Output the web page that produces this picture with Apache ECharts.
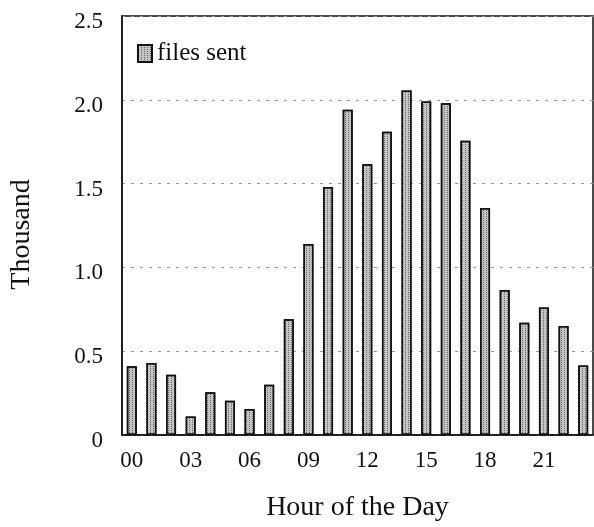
<!DOCTYPE html>
<html>
<head>
<meta charset="utf-8">
<script src="https://cdn.jsdelivr.net/npm/echarts@6.0.0/dist/echarts.min.js"></script>
<style>
  html, body { margin: 0; padding: 0; background: #fff; }
  #chart { width: 594px; height: 527px; }
</style>
</head>
<body>
<div id="chart"></div>
<script>
// hours of the day
const hours = ['00', '01', '02', '03', '04', '05', '06', '07', '08', '09', '10', '11',
  '12', '13', '14', '15', '16', '17', '18', '19', '20', '21', '22', '23']
// files sent, in thousands
const filesSent = [0.41, 0.43, 0.36, 0.11, 0.255, 0.205, 0.155, 0.30, 0.69, 1.14, 1.48, 1.94,
  1.615, 1.81, 2.055, 1.99, 1.98, 1.755, 1.355, 0.865, 0.67, 0.76, 0.65, 0.415]
const yTicks = ['0', '0.5', '1.0', '1.5', '2.0', '2.5']

const font = 'Liberation Serif'

const barStyle = {
  color: '#c4c4c4',
  borderColor: '#111',
  borderWidth: 1.5,
  decal: {
    symbol: 'rect',
    symbolSize: 1,
    dashArrayX: [1, 2],
    dashArrayY: [1, 1],
    color: 'rgba(40,40,40,0.6)',
    rotation: 0
  }
}

const chart = echarts.init(document.getElementById('chart'))
chart.setOption({
  animation: false,
  backgroundColor: '#fff',
  grid: {
    left: 119, right: 1, top: 16, bottom: 90,
    show: true, borderColor: '#111', borderWidth: 1.5
  },
  legend: {
    left: 132, top: 36,
    itemWidth: 14, itemHeight: 17,
    textStyle: { fontFamily: font, fontSize: 25, color: '#111' },
    data: [{ name: 'files sent', icon: 'rect' }]
  },
  xAxis: {
    type: 'category',
    data: hours,
    name: 'Hour of the Day',
    nameLocation: 'middle',
    nameGap: 59,
    nameTextStyle: { fontFamily: font, fontSize: 28, color: '#111' },
    axisLine: { lineStyle: { color: '#111', width: 1.5 } },
    axisTick: { show: false },
    axisLabel: {
      interval: 2, margin: 14,
      fontFamily: font, fontSize: 23, color: '#111'
    }
  },
  yAxis: {
    type: 'value',
    min: 0, max: 2.5, interval: 0.5,
    name: 'Thousand',
    nameLocation: 'middle',
    nameRotate: 90,
    nameGap: 86,
    nameTextStyle: { fontFamily: font, fontSize: 28, color: '#111', padding: [0, 18, 0, 0] },
    axisLine: { show: true, lineStyle: { color: '#111', width: 1.5 } },
    axisTick: { show: false },
    splitLine: { lineStyle: { color: '#999', type: [3, 6], width: 1 } },
    axisLabel: {
      margin: 19,
      verticalAlign: 'top',
      lineHeight: 12,
      fontFamily: font, fontSize: 23, color: '#111',
      formatter: (v) => yTicks[Math.round(v / 0.5)]
    }
  },
  series: [{
    name: 'files sent',
    type: 'bar',
    data: filesSent,
    barWidth: 10,
    itemStyle: barStyle
  }]
})
</script>
</body>
</html>
